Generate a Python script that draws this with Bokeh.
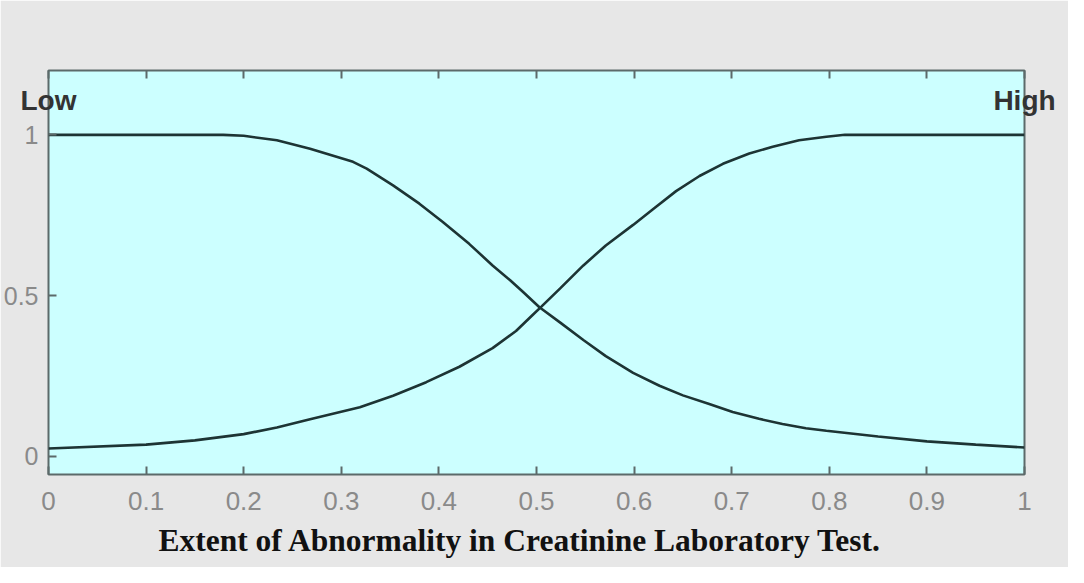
from bokeh.plotting import figure
from bokeh.models import Range1d, FixedTicker, LinearAxis, Title
from bokeh.embed import file_html
from bokeh.resources import INLINE

# Membership function data
low_x = [0, 0.1, 0.179, 0.2, 0.234, 0.268, 0.312, 0.326, 0.353, 0.38, 0.404, 0.431, 0.455,
         0.473, 0.486, 0.503, 0.524, 0.548, 0.571, 0.599, 0.626, 0.65, 0.677, 0.701, 0.728,
         0.752, 0.776, 0.797, 0.85, 0.9, 0.95, 1]
low_y = [1, 1, 1, 0.997, 0.983, 0.957, 0.916, 0.895, 0.843, 0.786, 0.729, 0.661, 0.594,
         0.548, 0.512, 0.464, 0.417, 0.362, 0.312, 0.26, 0.22, 0.19, 0.163, 0.138, 0.117,
         0.101, 0.088, 0.08, 0.062, 0.047, 0.037, 0.028]
high_x = [0, 0.1, 0.15, 0.2, 0.234, 0.268, 0.319, 0.353, 0.387, 0.421, 0.455, 0.479, 0.496,
          0.505, 0.524, 0.548, 0.571, 0.599, 0.619, 0.643, 0.667, 0.691, 0.718, 0.742, 0.769,
          0.797, 0.816, 0.9, 1]
high_y = [0.025, 0.037, 0.05, 0.0695, 0.09, 0.116, 0.153, 0.189, 0.231, 0.279, 0.337, 0.39,
          0.44, 0.466, 0.522, 0.594, 0.656, 0.72, 0.768, 0.825, 0.872, 0.91, 0.942, 0.963,
          0.983, 0.994, 1, 1, 1]

x_ticks = [0, 0.1, 0.2, 0.3, 0.4, 0.5, 0.6, 0.7, 0.8, 0.9, 1]
x_tick_labels = ["0", "0.1", "0.2", "0.3", "0.4", "0.5", "0.6", "0.7", "0.8", "0.9", "1"]
y_ticks = [0, 0.5, 1]
y_tick_labels = ["0", "0.5", "1"]

# membership function names, placed at their peaks (x = 0 and x = 1)
mf_names = ["Low", " ", " ", " ", " ", " ", " ", " ", " ", " ", "High"]

x_title = "Extent of Abnormality in Creatinine Laboratory Test."

BG = "#e7e7e7"
FRAME = "#ccffff"
EDGE = "#5c6a6a"
CURVE = "#1d3434"
TICKTXT = "#8a8a8a"

p = figure(width=1068, height=567, output_backend="svg", toolbar_location=None,
           x_range=Range1d(0, 1), y_range=Range1d(-0.056, 1.2),
           x_axis_location="below", y_axis_location="left",
           min_border_left=47, min_border_right=44, min_border_top=70, min_border_bottom=93)
p.background_fill_color = FRAME
p.border_fill_color = BG
p.outline_line_color = EDGE
p.outline_line_width = 2
p.grid.visible = False

p.line(low_x, low_y, line_color=CURVE, line_width=2.6)
p.line(high_x, high_y, line_color=CURVE, line_width=2.6)

def style_axis(ax, ticks, labels, size="26px", color=TICKTXT):
    ax.ticker = FixedTicker(ticks=ticks)
    ax.major_label_overrides = {t: l for t, l in zip(ticks, labels)}
    ax.axis_line_color = None
    ax.major_tick_in = 8
    ax.major_tick_out = 0
    ax.major_tick_line_color = EDGE
    ax.major_tick_line_width = 2
    ax.minor_tick_line_color = None
    ax.major_label_text_font = "Liberation Sans"
    ax.major_label_text_font_size = size
    ax.major_label_text_color = color

style_axis(p.xaxis[0], x_ticks, x_tick_labels)
p.xaxis[0].major_label_standoff = 17
style_axis(p.yaxis[0], y_ticks, y_tick_labels, size="25px")
p.yaxis[0].major_label_standoff = 10

top_axis = LinearAxis()
style_axis(top_axis, x_ticks, mf_names, size="28px", color="#333333")
top_axis.major_label_text_font_style = "bold"
top_axis.major_label_standoff = -45
p.add_layout(top_axis, "above")

p.add_layout(Title(text=x_title, align="left", offset=110, standoff=17,
                   text_font="Liberation Serif", text_font_style="bold",
                   text_font_size="31.5px", text_color="#111111"), "below")

open("out.html", "w").write(file_html(p, INLINE))
